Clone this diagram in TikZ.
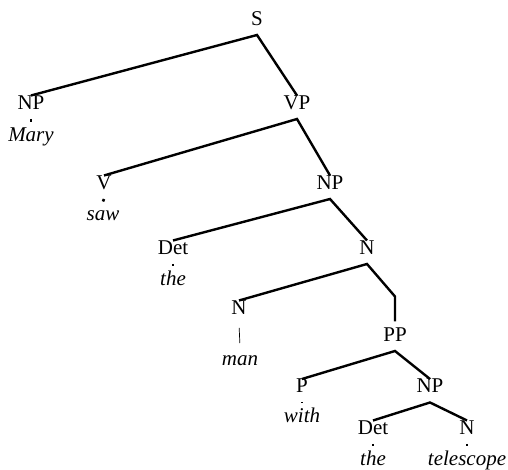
\documentclass[tikz,border=0pt]{standalone}
\usepackage{fontspec}
\setmainfont{Liberation Serif}

\begin{document}
\begin{tikzpicture}[x=1pt, y=1pt, line cap=butt, line join=miter,
    cat/.style={anchor=base, inner sep=0pt, outer sep=0pt, text height=14pt, text depth=9.5pt, font=\fontsize{21}{25}\selectfont},
    word/.style={anchor=base, inner sep=0pt, outer sep=0pt, text height=19.5pt, text depth=0pt, font=\fontsize{21}{25}\selectfont\itshape},
    branch/.style={line width=2.4pt},
    leaf/.style={line width=2.6pt},
    unary/.style={line width=0.7pt, shorten <=4pt, shorten >=3.5pt}]

  \useasboundingbox (0,0) rectangle (508,470);

  % categories
  \node[cat] (s)    at (257,444.5) {S};
  \node[cat] (np1)  at (31,360.5)  {NP};
  \node[cat] (vp)   at (297,360.5) {VP};
  \node[cat] (v)    at (104,280.5) {V};
  \node[cat] (np2)  at (330,280.5) {NP};
  \node[cat] (det1) at (173,215.5) {Det};
  \node[cat] (n1)   at (367,215.5) {N};
  \node[cat] (n2)   at (239,155.5) {N};
  \node[cat] (pp)   at (395,128.5) {PP};
  \node[cat] (p)    at (302,77)    {P};
  \node[cat] (np3)  at (430,77)    {NP};
  \node[cat] (det2) at (373,35.5)  {Det};
  \node[cat] (n3)   at (467,35.5)  {N};

  % words
  \node[word] (mary)  at (31,328.5)  {Mary};
  \node[word] (saw)   at (103,249)   {saw};
  \node[word] (the1)  at (173,184)   {the};
  \node[word] (man)   at (240,104)   {man};
  \node[word] (with)  at (302,47)    {with};
  \node[word] (the2)  at (373,4)     {the};
  \node[word] (tele)  at (467,4)     {telescope};

  % branches
  \draw[branch] (np1.north) -- (s.south) -- (vp.north);
  \draw[branch] (v.north) -- (vp.south) -- (np2.north);
  \draw[branch] (det1.north) -- (np2.south) -- (n1.north);
  \draw[branch] (n2.north) -- (n1.south) -- ([yshift=31pt]pp.north) -- ([yshift=6pt]pp.north);
  \draw[branch] (p.north) -- (pp.south) -- (np3.north);
  \draw[branch] (det2.north) -- (np3.south) -- (n3.north);

  % lexical links
  \draw[leaf] (np1.south) -- (mary.north);
  \draw[leaf] (v.south) -- (saw.north);
  \draw[leaf] (det1.south) -- (the1.north);
  \draw[unary] (n2.south) -- (man.north);
  \draw[leaf] (p.south) -- (with.north);
  \draw[leaf] (det2.south) -- (the2.north);
  \draw[leaf] (n3.south) -- (tele.north);

\end{tikzpicture}
\end{document}
